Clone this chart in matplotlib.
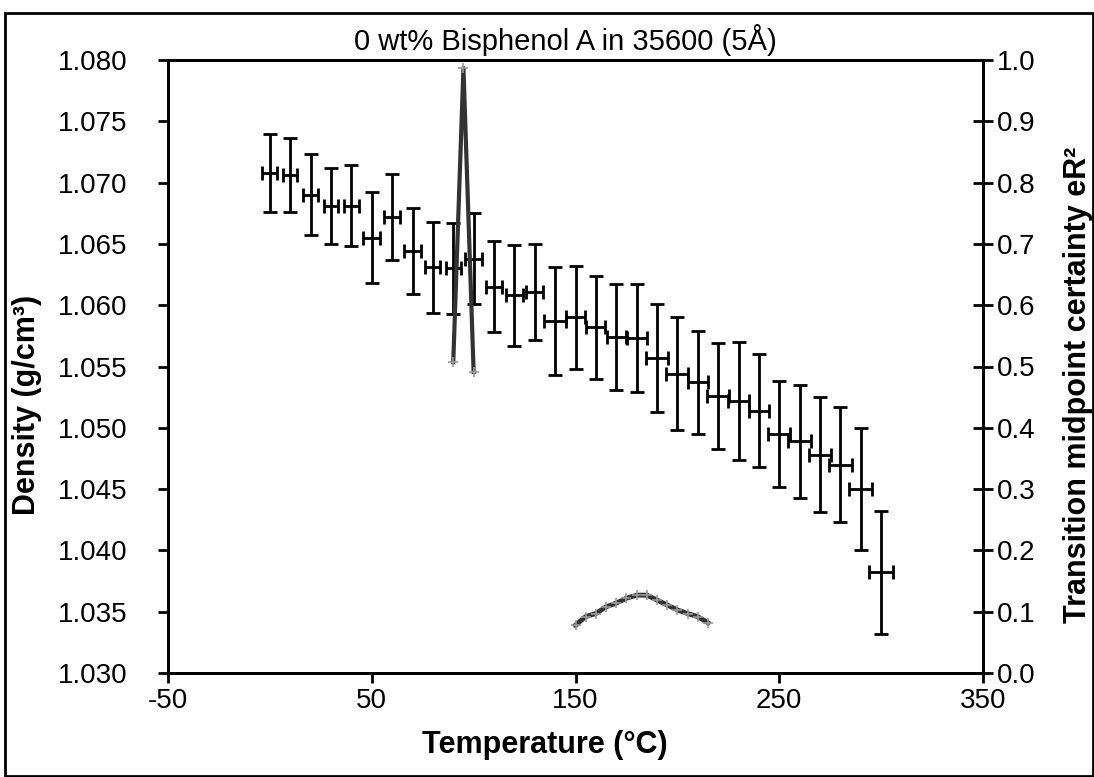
import matplotlib
matplotlib.use("Agg")
import matplotlib.pyplot as plt
import numpy as np
from matplotlib.patches import Rectangle

plt.rcParams['font.family'] = ['Liberation Sans', 'DejaVu Sans']
plt.rcParams['axes.unicode_minus'] = False

# density data
temp = [0, 10, 20, 30, 40, 50, 60, 70, 80, 90, 100, 110, 120, 130, 140, 150,
        160, 170, 180, 190, 200, 210, 220, 230, 240, 250, 260, 270, 280, 290, 300]
density = [1.0708, 1.0706, 1.0690, 1.0681, 1.0681, 1.0655, 1.0672, 1.0644, 1.0631, 1.0630,
           1.0638, 1.0615, 1.0608, 1.0611, 1.0587, 1.0590, 1.0582, 1.0574, 1.0573, 1.0557,
           1.0544, 1.0537, 1.0526, 1.0522, 1.0514, 1.0495, 1.0489, 1.0478, 1.0470, 1.0450,
           1.0382]
density_err = [0.0032, 0.0030, 0.0033, 0.0031, 0.0033, 0.0037, 0.0035, 0.0035, 0.0037, 0.0037,
               0.0037, 0.0037, 0.0041, 0.0039, 0.0044, 0.0042, 0.0042, 0.0043, 0.0044, 0.0044,
               0.0046, 0.0042, 0.0043, 0.0048, 0.0046, 0.0043, 0.0046, 0.0047, 0.0047, 0.0050,
               0.0050]
temp_err = [3.7, 3.4, 3.7, 3.5, 3.7, 4.1, 3.9, 4.0, 3.7, 3.8, 4.1, 3.7, 4.1, 4.1, 5.3, 4.9,
            4.7, 4.7, 4.9, 5.2, 5.4, 4.9, 5.3, 5.3, 4.9, 5.5, 5.5, 5.3, 5.6, 5.6, 5.8]

# transition midpoint certainty
peak_t = [90, 95, 100]
peak_r2 = [0.507, 0.987, 0.491]
hump_t = [150, 155, 160, 165, 170, 175, 180, 185, 190, 195, 200, 205, 210, 215]
hump_r2 = [0.078, 0.092, 0.097, 0.108, 0.114, 0.122, 0.127, 0.127, 0.119, 0.111,
           0.103, 0.097, 0.092, 0.082]

fig = plt.figure(figsize=(10.94, 7.77), dpi=100)
ax = fig.add_axes([168/1094, 1-673/777, 815/1094, 613/777])

ax.errorbar(temp, density, yerr=density_err, xerr=temp_err, fmt='none',
            ecolor='black', elinewidth=2.0, capsize=5, capthick=2.0)

ax.set_xlim(-50, 350)
ax.set_ylim(1.030, 1.080)
ax.set_xticks(np.arange(-50, 351, 100))
ax.set_yticks(np.arange(1.030, 1.0801, 0.005))
ax.set_yticklabels(['%.3f' % v for v in np.arange(1.030, 1.0801, 0.005)])
ax.tick_params(axis='y', direction='out', length=7, width=2, labelsize=20, pad=22)
ax.tick_params(axis='x', direction='out', length=7, width=2, labelsize=20, pad=4)
for s in ax.spines.values():
    s.set_linewidth(2)

ax2 = ax.twinx()
ax2.plot(peak_t, peak_r2, color='#333333', lw=3, marker='+', ms=7, mec='#999999', mew=1.2)
ax2.plot(hump_t, hump_r2, color='#333333', lw=3.5, marker='+', ms=7, mec='#999999', mew=1.2)
ax2.set_ylim(0, 1)
ax2.set_yticks(np.arange(0, 1.01, 0.1))
ax2.set_yticklabels(['%.1f' % v for v in np.arange(0, 1.01, 0.1)])
ax2.tick_params(axis='y', direction='inout', length=14, width=2, labelsize=20, pad=3)
for s in ax2.spines.values():
    s.set_linewidth(2)

fig.text(565/1094, 1-40/777, '0 wt% Bisphenol A in 35600 (5Å)', fontsize=21,
         ha='center', va='center')
fig.text(545/1094, 1-745/777, 'Temperature (°C)', fontsize=22, fontweight='bold',
         ha='center', va='center')
fig.text(27/1094, 1-405/777, 'Density (g/cm³)', fontsize=22, fontweight='bold',
         ha='center', va='center', rotation=90)
fig.text(1078/1094, 1-385/777, 'Transition midpoint certainty eR²', fontsize=22,
         fontweight='bold', ha='center', va='center', rotation=90)

fig.patches.append(Rectangle((5/1094, 1/777), 1088/1094, 763/777, transform=fig.transFigure,
                             fill=False, edgecolor='black', linewidth=2))

fig.savefig('out.png', dpi=100)
